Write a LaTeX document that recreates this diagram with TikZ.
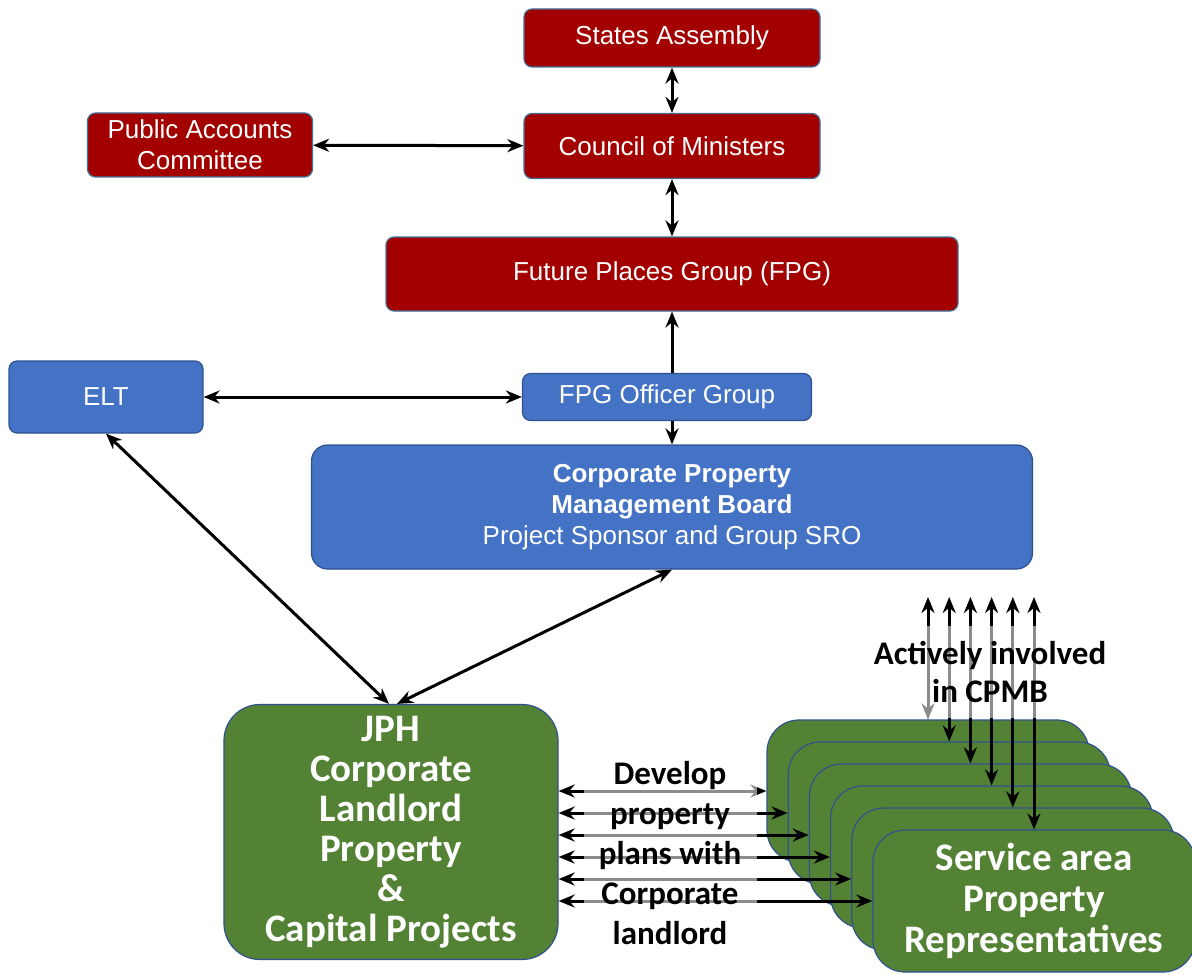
\documentclass[tikz,border=0pt]{standalone}
\usepackage{fontspec}
\setmainfont{Liberation Sans}
\newfontfamily\calibri{Carlito}
\usepackage{tikz}
\usetikzlibrary{arrows.meta, positioning, calc}
\definecolor{govred}{RGB}{163, 0, 0}
\definecolor{offblue}{RGB}{68, 114, 196}
\definecolor{landgreen}{RGB}{84, 130, 53}
\definecolor{edgeblue}{RGB}{47, 82, 143}
\definecolor{edgegrey}{RGB}{65, 113, 156}
\tikzstyle{redbox} = [
    rectangle,
    rounded corners=4pt,
    draw=edgegrey,
    line width=0.6pt,
    fill=govred,
    text=white,
    align=center,
    font=\fontsize{13}{15.5}\selectfont
]
\tikzstyle{bluebox} = [
    redbox,
    draw=edgeblue,
    fill=offblue
]
\tikzstyle{greenbox} = [
    rectangle,
    rounded corners=16pt,
    draw=edgeblue,
    line width=0.6pt,
    fill=landgreen,
    text=white,
    align=center,
    font=\calibri\bfseries\fontsize{19.5}{20.5}\selectfont
]
\tikzstyle{label} = [
    align=center,
    text=black,
    fill=white,
    fill opacity=0.55,
    text opacity=1,
    inner sep=0pt,
    font=\calibri\bfseries\fontsize{16.5}{20}\selectfont
]
\tikzstyle{arrow} = [
    line width=1.5pt,
    {Stealth[length=8pt,width=6.5pt]}-{Stealth[length=8pt,width=6.5pt]},
    color=black
]
\tikzstyle{onearrow} = [
    line width=1.5pt,
    -{Stealth[length=8pt,width=6.5pt]},
    color=black
]

\begin{document}
\begin{tikzpicture}[x=0.5pt, y=-0.5pt]
        \useasboundingbox (0,0) rectangle (1192,973);
        % Government
        \node[redbox, minimum width=148pt, minimum height=29pt] (states) at (672, 38) {States Assembly};
        \node[redbox, minimum width=148pt, minimum height=32.5pt] (council) at (672, 146) {Council of Ministers};
        \node[redbox, minimum width=112.5pt, minimum height=32pt] (pac) at (200, 145) {Public Accounts\\Committee};
        \node[redbox, minimum width=286pt, minimum height=37pt] (fpg) at (672, 274) {Future Places Group (FPG)};

        % Officers
        \node[bluebox, minimum width=97pt, minimum height=36pt] (elt) at (106, 397) {ELT};
        \node[bluebox, minimum width=144.5pt, minimum height=23.5pt] (fpgo) at (667, 397) {FPG Officer Group};
        \node[bluebox, rounded corners=8pt, minimum width=360.5pt, minimum height=62pt] (cpmb) at (672, 507)
            {\textbf{Corporate Property}\\\textbf{Management Board}\\Project Sponsor and Group SRO};

        % Landlord and service areas
        \node[greenbox, rounded corners=18pt, minimum width=167pt, minimum height=127.5pt,
              font=\calibri\bfseries\fontsize{19.5}{20}\selectfont] (jph) at (391, 832)
            {JPH\\Corporate\\Landlord\\Property\\\&\\Capital Projects};
        \foreach \i in {1,...,5}
            \node[greenbox, minimum width=161pt, minimum height=71pt] (sa\i) at ({928+21.2*(\i-1)}, {791+22*(\i-1)}) {};
        \node[greenbox, minimum width=161pt, minimum height=71pt] (sa6) at (1034, 901)
            {Service area\\Property\\Representatives};
        \coordinate (cpmbtop) at (0, 597);

        % Arrows
        \draw[arrow] (states) -- (council);
        \draw[arrow] (pac) -- (council);
        \draw[arrow] (council) -- (fpg);
        \draw[onearrow] (fpgo.north -| fpg.south) -- (fpg.south);
        \draw[arrow] (elt) -- (fpgo);
        \draw[onearrow] (fpgo.south -| cpmb.north) -- (cpmb.north);
        \draw[arrow] (elt.south) -- ([xshift=-1pt]jph.north);
        \draw[arrow] (cpmb.south) -- ([xshift=3pt]jph.north);
        \foreach \i in {1,...,6} {
            \draw[arrow] (sa\i.west -| jph.east) -- (sa\i.west);
            \draw[arrow] (sa\i.north |- cpmbtop) -- (sa\i.north);
        }

        % Labels
        \node[label, minimum width=86.5pt, minimum height=108.5pt] (develop) at (670, 853)
            {Develop\\property\\plans with\\Corporate\\landlord};
        \node[label, font=\calibri\bfseries\fontsize{16.5}{19}\selectfont, minimum width=134pt, minimum height=46pt] (involved) at (990, 672)
            {Actively involved\\in CPMB};
    \end{tikzpicture}
\end{document}
